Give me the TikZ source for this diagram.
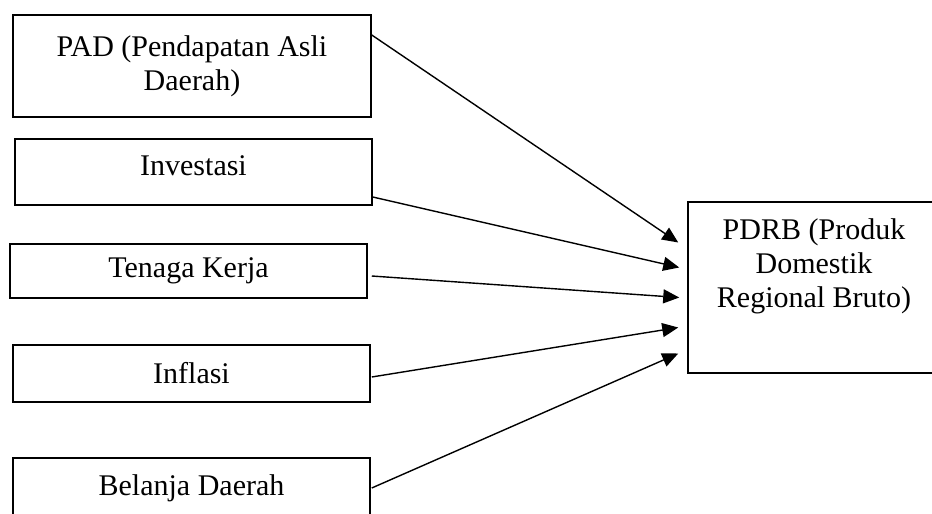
\documentclass[tikz,border=0pt]{standalone}
\usepackage{fontspec}
\setmainfont{Liberation Serif}
\usetikzlibrary{arrows.meta}

\tikzset{
  varbox/.style={draw, line width=1.5pt, rectangle, minimum width=357pt, inner sep=0pt, align=center},
  panah/.style={line width=1.4pt, -{Triangle[length=16pt,width=14pt]}}
}

\begin{document}
\begin{tikzpicture}[x=1pt,y=-1pt,font=\fontsize{30}{34}\selectfont]
\useasboundingbox (0,0) rectangle (932,514);
\clip (0,0) rectangle (932,514);

\node[varbox, minimum width=358pt, minimum height=102pt] (pad) at (192,66) {PAD (Pendapatan Asli\\Daerah)};
\node[varbox, minimum height=66pt] (inv) at (193.5,172) {\raisebox{6pt}[\height][\depth]{Investasi}};
\node[varbox, minimum height=54pt] (tk) at (188.5,271) {Tenaga Kerja};
\node[varbox, minimum height=57pt] (inf) at (191.5,373.5) {Inflasi};
\node[varbox, minimum height=60pt] (bd) at (191.5,488) {Belanja Daerah};

\node[varbox, minimum width=252pt, minimum height=171pt] (pdrb) at (814,287.5) {};
\node[anchor=north, align=center, inner sep=0pt] (pdrbtxt) at ([yshift=-17pt]pdrb.north) {PDRB (Produk\\Domestik\\Regional Bruto)};

\coordinate (t1) at ([xshift=-9pt,yshift=45pt]pdrb.west);
\coordinate (t2) at ([xshift=-8pt,yshift=20pt]pdrb.west);
\coordinate (t3) at ([xshift=-8pt,yshift=-10pt]pdrb.west);
\coordinate (t4) at ([xshift=-9pt,yshift=-40pt]pdrb.west);
\coordinate (t5) at ([xshift=-9pt,yshift=-66pt]pdrb.west);

\draw[panah] ([yshift=31pt]pad.east) -- (t1);
\draw[panah] ([yshift=-25pt]inv.east) -- (t2);
\draw[panah] ([xshift=4pt,yshift=-5pt]tk.east) -- (t3);
\draw[panah] ([xshift=1pt,yshift=-3.5pt]inf.east) -- (t4);
\draw[panah] ([xshift=1pt]bd.east) -- (t5);

\end{tikzpicture}
\end{document}
